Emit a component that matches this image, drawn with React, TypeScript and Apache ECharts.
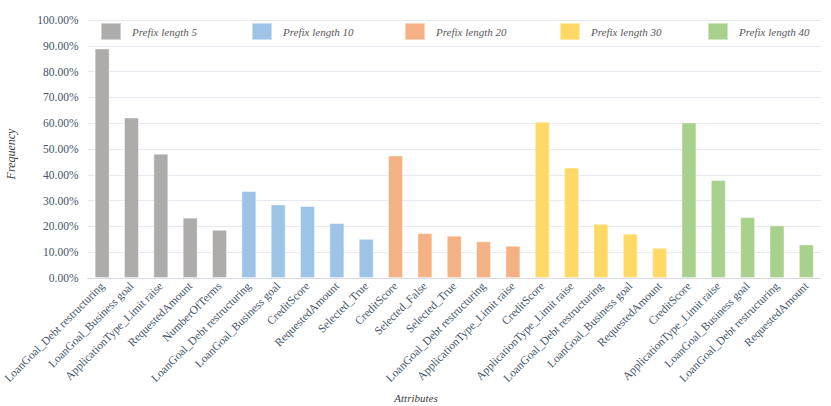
import React, { useEffect, useRef } from "react";
import * as echarts from "echarts";

const categories = [
  "LoanGoal_Debt restructuring", "LoanGoal_Business goal", "ApplicationType_Limit raise", "RequestedAmount", "NumberOfTerms",
  "LoanGoal_Debt restructuring", "LoanGoal_Business goal", "CreditScore", "RequestedAmount", "Selected_True",
  "CreditScore", "Selected_False", "Selected_True", "LoanGoal_Debt restructuring", "ApplicationType_Limit raise",
  "CreditScore", "ApplicationType_Limit raise", "LoanGoal_Debt restructuring", "LoanGoal_Business goal", "RequestedAmount",
  "CreditScore", "ApplicationType_Limit raise", "LoanGoal_Business goal", "LoanGoal_Debt restructuring", "RequestedAmount",
];
const seriesNames = ["Prefix length 5", "Prefix length 10", "Prefix length 20", "Prefix length 30", "Prefix length 40"];
const prefix5 = [89.0, 62.2, 48.2, 23.4, 18.7];
const prefix10 = [33.7, 28.5, 27.9, 21.3, 15.2];
const prefix20 = [47.5, 17.4, 16.4, 14.2, 12.5];
const prefix30 = [60.6, 42.8, 21.0, 17.2, 11.7];
const prefix40 = [60.3, 38.0, 23.6, 20.4, 13.0];
const colors = ["#AEABAB", "#9DC3E6", "#F4B183", "#FFD966", "#A9D18E"];
const yTicks = [0, 10, 20, 30, 40, 50, 60, 70, 80, 90, 100];

const groups = [prefix5, prefix10, prefix20, prefix30, prefix40];
const legendLefts = [100, 251, 404, 559, 707];
const FONT = "'Liberation Serif', 'Times New Roman', serif";

export default function App() {
  const ref = useRef<HTMLDivElement>(null);
  useEffect(() => {
    const chart = echarts.init(ref.current!, null, { renderer: "svg" });
    const series = groups.map((vals, gi) => {
      const data: (number | string)[] = categories.map(() => "-");
      vals.forEach((v, i) => {
        data[gi * 5 + i] = v;
      });
      return {
        name: seriesNames[gi],
        type: "bar",
        stack: "all",
        barWidth: 15,
        data,
        itemStyle: { color: colors[gi], borderColor: "rgba(255,255,255,0.45)", borderWidth: 1 },
      };
    });
    const legends = seriesNames.map((name, i) => ({
      left: legendLefts[i],
      top: 22,
      padding: 0,
      itemWidth: 20,
      itemHeight: 17,
      icon: "rect",
      data: [name],
      textStyle: {
        fontFamily: FONT,
        fontStyle: "italic",
        fontSize: 11,
        color: "#595959",
        padding: [0, 0, 0, 6],
      },
    }));
    chart.setOption({
      animation: false,
      textStyle: { fontFamily: FONT },
      grid: { left: 78, right: 10, top: 20, bottom: 128 },
      legend: legends,
      xAxis: {
        type: "category",
        data: categories,
        axisTick: { show: false },
        axisLine: { lineStyle: { color: "#D9D9E3" } },
        axisLabel: {
          rotate: 45,
          interval: 0,
          fontFamily: FONT,
          fontSize: 11.5,
          color: "#44546A",
          margin: 6,
        },
      },
      yAxis: {
        type: "value",
        min: 0,
        max: 100,
        interval: 10,
        axisLine: { show: false },
        axisTick: { show: false },
        splitLine: { lineStyle: { color: "#E8E8F0" } },
        axisLabel: {
          fontFamily: FONT,
          fontSize: 11.5,
          color: "#44546A",
          margin: 9,
          formatter: (v: number) => (yTicks.includes(v) ? v.toFixed(2) + "%" : ""),
        },
      },
      graphic: [
        {
          type: "text",
          x: 11,
          y: 154,
          rotation: Math.PI / 2,
          style: {
            text: "Frequency",
            fontFamily: FONT,
            fontStyle: "italic",
            fontSize: 12,
            fill: "#404040",
            align: "center",
            verticalAlign: "middle",
          },
        },
        {
          type: "text",
          x: 416,
          y: 398,
          style: {
            text: "Attributes",
            fontFamily: FONT,
            fontStyle: "italic",
            fontSize: 11,
            fill: "#404040",
            align: "center",
            verticalAlign: "middle",
          },
        },
      ],
      series,
    });
    return () => chart.dispose();
  }, []);
  return (
    <div
      ref={ref}
      style={{ position: "absolute", left: 0, top: 0, width: 831, height: 406 }}
    />
  );
}
